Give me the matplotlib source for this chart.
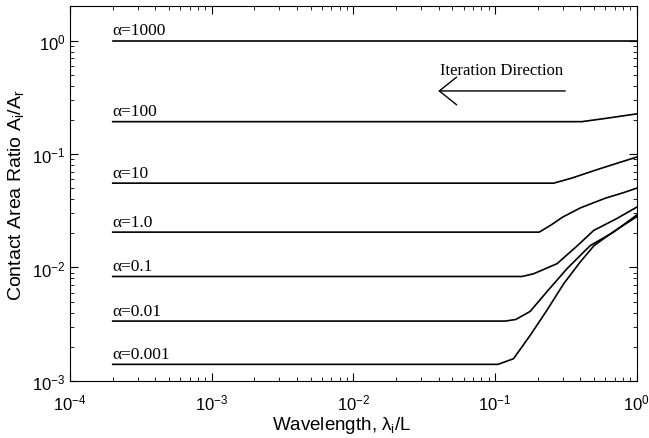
import matplotlib
matplotlib.use('Agg')
import matplotlib.pyplot as plt

plt.rcParams['font.family'] = ['Liberation Sans', 'DejaVu Sans']
plt.rcParams['mathtext.fontset'] = 'custom'
plt.rcParams['mathtext.rm'] = 'Liberation Sans'
plt.rcParams['mathtext.it'] = 'Liberation Sans:italic'

# curves: (wavelength, contact area ratio)
alpha_labels = ['α=1000', 'α=100', 'α=10', 'α=1.0', 'α=0.1', 'α=0.01', 'α=0.001']

wl_1000 = [2e-4, 1.0]
ar_1000 = [1.0, 1.0]

wl_100 = [2e-4, 0.41, 0.6, 1.0]
ar_100 = [0.193, 0.193, 0.206, 0.226]

wl_10 = [2e-4, 0.26, 0.35, 0.52, 0.75, 1.0]
ar_10 = [0.0554, 0.0554, 0.0615, 0.0726, 0.084, 0.094]

wl_1 = [2e-4, 0.205, 0.25, 0.30, 0.40, 0.6, 0.8, 1.0]
ar_1 = [0.0205, 0.0205, 0.0238, 0.0278, 0.0335, 0.0408, 0.0455, 0.050]

wl_01 = [2e-4, 0.155, 0.187, 0.274, 0.38, 0.497, 0.72, 1.0]
ar_01 = [0.00833, 0.00833, 0.0088, 0.0108, 0.0155, 0.0212, 0.0269, 0.034]

wl_001 = [2e-4, 0.118, 0.14, 0.177, 0.232, 0.322, 0.47, 0.687, 1.0]
ar_001 = [0.00337, 0.00337, 0.00348, 0.0041, 0.0061, 0.00975, 0.0156, 0.0205, 0.029]

wl_0001 = [2e-4, 0.105, 0.135, 0.177, 0.232, 0.305, 0.40, 0.50, 0.69, 1.0]
ar_0001 = [0.0014, 0.0014, 0.00157, 0.00252, 0.00418, 0.00718, 0.0112, 0.0156, 0.0208, 0.028]

curves = [(wl_1000, ar_1000), (wl_100, ar_100), (wl_10, ar_10), (wl_1, ar_1),
          (wl_01, ar_01), (wl_001, ar_001), (wl_0001, ar_0001)]

fig = plt.figure(figsize=(6.49, 4.39), dpi=100)
ax = fig.add_axes([0.108, 0.13, 0.873, 0.853])

for (wl, ar), lab in zip(curves, alpha_labels):
    ax.plot(wl, ar, color='black', lw=1.2)
    ax.text(wl[0], ar[0] * 1.05, lab, family='Liberation Serif', fontsize=12.5,
            ha='left', va='bottom')

ax.set_xscale('log')
ax.set_yscale('log')
ax.set_xlim(1e-4, 1)
ax.set_ylim(1e-3, 2)

# iteration direction arrow
ax.annotate('', xy=(0.0397, 0.36), xytext=(0.313, 0.36),
            arrowprops=dict(arrowstyle='->,head_length=0.5,head_width=0.4',
                            color='black', lw=1.0, mutation_scale=25,
                            shrinkA=0, shrinkB=0))
ax.text(0.112, 0.47, 'Iteration Direction', family='Liberation Serif',
        fontsize=12, ha='center', va='bottom')

ax.tick_params(which='both', direction='in', top=True, right=True,
               labelsize=12)
ax.tick_params(which='major', length=6)
ax.tick_params(which='minor', length=3)
ax.tick_params(axis='x', pad=8)

ax.set_xlabel('Wavelength, λ$_\\mathrm{i}$/L', fontsize=13.5)
ax.xaxis.set_label_coords(0.479, -0.088)
ax.set_ylabel('Contact Area Ratio A$_\\mathrm{i}$/A$_\\mathrm{r}$', fontsize=14,
              labelpad=4)

fig.savefig('out.png', dpi=100)
